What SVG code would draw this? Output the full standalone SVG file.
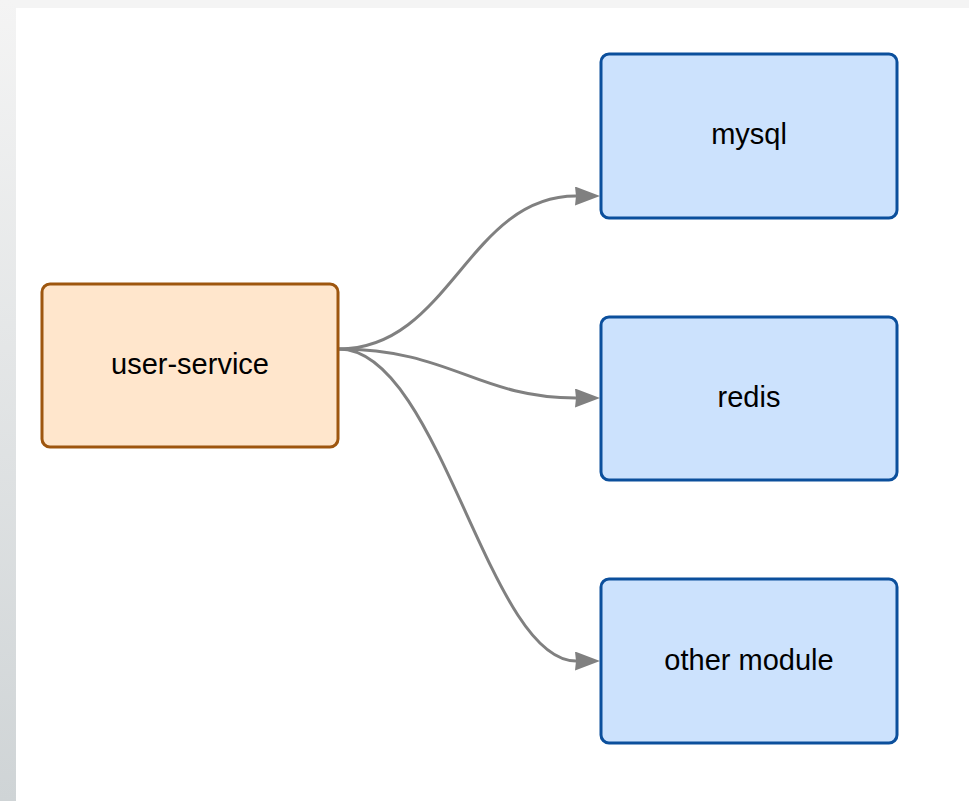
<svg xmlns="http://www.w3.org/2000/svg" width="969" height="801" viewBox="0 0 969 801">
<defs>
<linearGradient id="side" x1="0" y1="0" x2="0" y2="1">
<stop offset="0" stop-color="#f4f4f4"/>
<stop offset="1" stop-color="#cfd4d6"/>
</linearGradient>
<marker id="arr" viewBox="0 0 25 19" refX="1" refY="9.5" markerWidth="25" markerHeight="19" markerUnits="userSpaceOnUse" orient="auto">
<path d="M0,0 L25,9.5 L0,19 L1,9.5 Z" fill="#808080"/>
</marker>
<style>
.svc{fill:#ffe6cc;stroke:#9e560e;stroke-width:3}
.db{fill:#cce2fd;stroke:#0b4f9c;stroke-width:3}
.lbl{font-family:"Liberation Sans",Arial,sans-serif;font-size:29px;fill:#000;text-anchor:middle}
.edge{fill:none;stroke:#808080;stroke-width:3}
</style>
</defs>
<rect x="0" y="0" width="969" height="801" fill="#f4f4f4"/>
<rect x="0" y="0" width="16" height="801" fill="url(#side)"/>
<rect x="16" y="8" width="953" height="793" fill="#ffffff"/>
<g id="connectors">
<path class="edge" d="M339,349 C450,349 468,196 576,196" marker-end="url(#arr)"/>
<path class="edge" d="M339,349 C450,349 478,398 576,398" marker-end="url(#arr)"/>
<path class="edge" d="M339,349 C440,349 488,661 576,661" marker-end="url(#arr)"/>
</g>
<g id="user-service">
<rect class="svc" x="42" y="284" width="296" height="163" rx="8"/>
<text class="lbl" x="190" y="374">user-service</text>
</g>
<g id="mysql">
<rect class="db" x="601" y="54" width="296" height="164" rx="8"/>
<text class="lbl" x="749" y="144">mysql</text>
</g>
<g id="redis">
<rect class="db" x="601" y="317" width="296" height="163" rx="8"/>
<text class="lbl" x="749" y="407">redis</text>
</g>
<g id="other-module">
<rect class="db" x="601" y="579" width="296" height="164" rx="8"/>
<text class="lbl" x="749" y="670">other module</text>
</g>
</svg>
